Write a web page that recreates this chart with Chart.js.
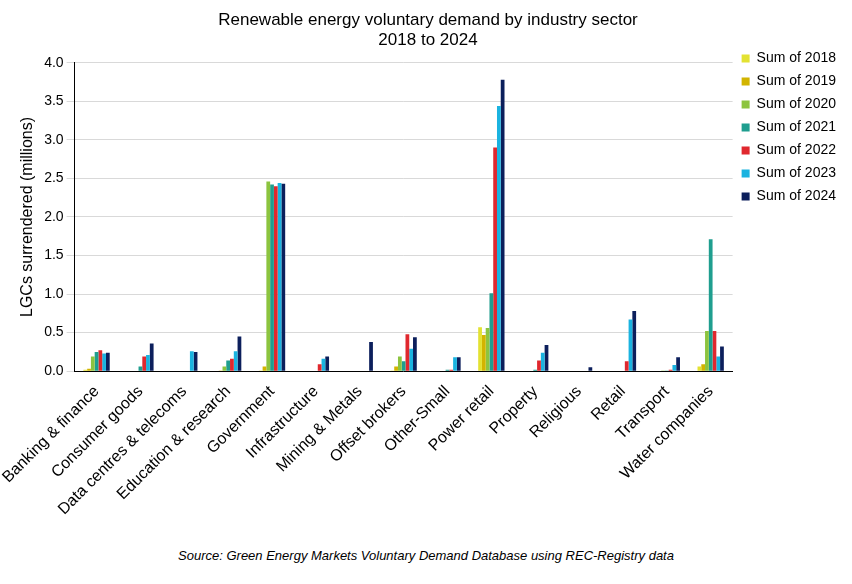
<!DOCTYPE html>
<html><head><meta charset="utf-8">
<script src="https://cdn.jsdelivr.net/npm/chart.js@4"></script>
<style>body{margin:0;background:#fff;font-family:Arial,"Liberation Sans",sans-serif}
#wrap{position:relative;width:852px;height:584px}
#src{position:absolute;left:0;width:852px;top:548px;text-align:center;font-style:italic;font-size:13px;color:#000}</style>
</head><body><div id="wrap"><canvas id="c" width="852" height="522"></canvas>
<div id="src">Source: Green Energy Markets Voluntary Demand Database using REC-Registry data</div></div>
<script>
const sectors = ['Banking & finance','Consumer goods','Data centres & telecoms','Education & research','Government','Infrastructure','Mining & Metals','Offset brokers','Other-Small','Power retail','Property','Religious','Retail','Transport','Water companies'];
const s2018 = [0.02,0,0,0,0.01,0,0,0.01,0,0.57,0,0,0,0,0.06];
const s2019 = [0.03,0,0,0.01,0.06,0,0,0.06,0,0.47,0,0,0,0,0.09];
const s2020 = [0.19,0,0,0.06,2.46,0,0,0.19,0,0.56,0,0,0,0.01,0.52];
const s2021 = [0.25,0.06,0,0.14,2.42,0,0,0.13,0.02,1.01,0.02,0,0,0.01,1.71];
const s2022 = [0.27,0.19,0,0.16,2.40,0.09,0,0.48,0.02,2.90,0.14,0,0.13,0.02,0.52];
const s2023 = [0.23,0.21,0.26,0.26,2.44,0.16,0,0.29,0.18,3.44,0.24,0,0.67,0.08,0.19];
const s2024 = [0.24,0.36,0.25,0.45,2.43,0.19,0.38,0.44,0.18,3.78,0.34,0.05,0.78,0.18,0.32];
const names = ['Sum of 2018','Sum of 2019','Sum of 2020','Sum of 2021','Sum of 2022','Sum of 2023','Sum of 2024'];
const colors = ['#e3e232','#d2b400','#8cc43f','#1f9e8f','#e0282e','#1ab3e0','#0c1f5c'];
const series = [s2018,s2019,s2020,s2021,s2022,s2023,s2024];
new Chart(document.getElementById('c'), {
  type: 'bar',
  data: {
    labels: sectors,
    datasets: series.map((d, i) => ({label: names[i], data: d, backgroundColor: colors[i], categoryPercentage: 0.6, barPercentage: 1}))
  },
  options: {
    responsive: false, animation: false,
    layout: {padding: {left: 10, right: 6}},
    plugins: {
      title: {display: true, text: ['Renewable energy voluntary demand by industry sector','2018 to 2024'], color: '#000', font: {size: 17, weight: 'normal'}, padding: {top: 10, bottom: 12}},
      legend: {position: 'right', align: 'start', title: {display: true, text: ' ', padding: 14}, labels: {boxWidth: 8, boxHeight: 8, color: '#000', font: {size: 14}, padding: 9}}
    },
    scales: {
      x: {grid: {display: false}, border: {color: '#000'}, ticks: {color: '#000', font: {size: 16}, maxRotation: 45, minRotation: 45, autoSkip: false}},
      y: {min: 0, max: 4, ticks: {stepSize: 0.5, color: '#000', font: {size: 14}, callback: v => v.toFixed(1)}, grid: {color: '#d9d9d9'}, border: {color: '#000'},
          title: {display: true, text: 'LGCs surrendered (millions)', color: '#000', font: {size: 16}}}
    }
  }
});
</script></body></html>
